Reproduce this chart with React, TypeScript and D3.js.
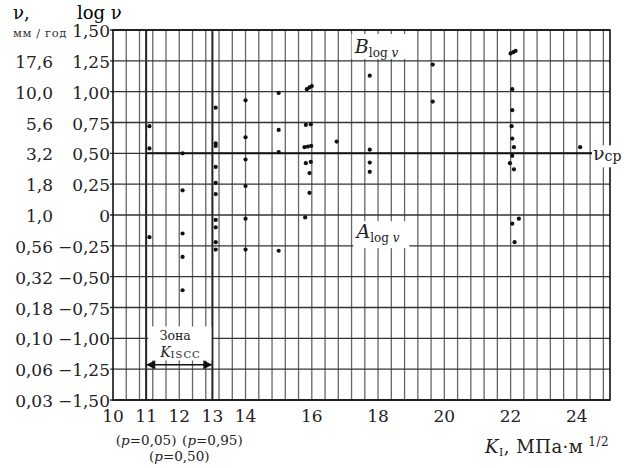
import React from 'react'
import { range, scaleLinear } from 'd3'

// K_I values (MPa·m^1/2) and log v for every measured point
const kValues = [
  11.1, 11.1, 11.1,
  12.1, 12.1, 12.1, 12.1, 12.1,
  13.1, 13.1, 13.1, 13.1, 13.1, 13.1, 13.1, 13.1, 13.1, 13.1,
  14.0, 14.0, 14.0, 14.0, 14.0, 14.0,
  15.0, 15.0, 15.0, 15.0,
  15.85, 15.93, 16.0, 15.82, 15.97, 15.78, 15.88, 15.98, 15.82, 15.97, 15.93, 15.93, 15.8,
  16.75,
  17.75, 17.75, 17.75, 17.75,
  19.65, 19.65,
  22.0, 22.08, 22.15, 22.05, 22.05, 22.03, 22.05, 22.1, 22.05, 21.98, 22.1, 22.25, 22.05, 22.12,
  24.1,
]
const logVValues = [
  0.72, 0.54, -0.18,
  0.5, 0.2, -0.15, -0.34, -0.61,
  0.87, 0.58, 0.56, 0.39, 0.26, 0.17, -0.04, -0.1, -0.22, -0.28,
  0.93, 0.63, 0.45, 0.235, -0.03, -0.28,
  0.99, 0.69, 0.51, -0.29,
  1.02, 1.035, 1.045, 0.73, 0.735, 0.55, 0.555, 0.56, 0.42, 0.43, 0.34, 0.18, -0.02,
  0.595,
  1.13, 0.53, 0.425, 0.35,
  1.22, 0.92,
  1.31, 1.32, 1.33, 1.02, 0.85, 0.72, 0.62, 0.55, 0.48, 0.42, 0.37, -0.03, -0.07, -0.22,
  0.55,
]

const logTicks = [1.5, 1.25, 1, 0.75, 0.5, 0.25, 0, -0.25, -0.5, -0.75, -1, -1.25, -1.5]
const logLabels = ['1,50', '1,25', '1,00', '0,75', '0,50', '0,25', '0', '−0,25', '−0,50', '−0,75', '−1,00', '−1,25', '−1,50']
const vLabels = ['', '17,6', '10,0', '5,6', '3,2', '1,8', '1,0', '0,56', '0,32', '0,18', '0,10', '0,06', '0,03']
const kTicks = [10, 11, 12, 13, 14, 16, 18, 20, 22, 24]
const probK = [11, 13, 12]
const probText = ['0,05', '0,95', '0,50']
const probRow = [0, 0, 1]
const meanLogV = 0.5
const zoneK = [11, 13]

const width = 632
const height = 468
const margin = { top: 30, right: 22, bottom: 68, left: 113 }
const innerW = width - margin.left - margin.right
const innerH = height - margin.top - margin.bottom

const font = '"DejaVu Serif", serif'

function App() {
  const x = scaleLinear().domain([10, 25]).range([0, innerW])
  const y = scaleLinear().domain([-1.5, 1.5]).range([innerH, 0])
  const gridK = range(10.4, 24.9, 0.4)
  const arrowY = y(-1.215)
  const zoneTop = y(-0.92)

  return (
    <div style={{ position: 'absolute', left: 0, top: 0 }}>
      <svg width={width} height={height} style={{ display: 'block', background: '#fff' }} fontFamily={font}>
        <defs>
          <marker id="ah" viewBox="0 0 10 10" refX="9" refY="5" markerWidth="7" markerHeight="6" orient="auto-start-reverse">
            <path d="M0,0 L10,5 L0,10 z" fill="#111" />
          </marker>
        </defs>

        {/* y header */}
        <text x={13} y={19} fontSize={18}>ν,</text>
        <text x={77} y={19} fontSize={18}>log ν</text>
        <text x={13} y={37} fontSize={11.5} letterSpacing={0.6} fill="#333">мм / год</text>

        <g transform={`translate(${margin.left},${margin.top})`}>
          {/* vertical grid */}
          {gridK.map((k, i) => (
            <line key={'v' + i} x1={x(k)} x2={x(k)} y1={0} y2={innerH} stroke="#666" strokeWidth={1.3} />
          ))}
          {zoneK.map(k => (
            <line key={'z' + k} x1={x(k)} x2={x(k)} y1={0} y2={innerH} stroke="#222" strokeWidth={2} />
          ))}
          {/* horizontal grid */}
          {logTicks.map(t => (
            <line key={'h' + t} x1={-3} x2={innerW} y1={y(t)} y2={y(t)} stroke="#333" strokeWidth={1.4} />
          ))}
          {/* mean line */}
          <line x1={x(11)} x2={innerW} y1={y(meanLogV)} y2={y(meanLogV)} stroke="#111" strokeWidth={2} />

          {/* frame */}
          <rect x={0} y={0} width={innerW} height={innerH} fill="none" stroke="#111" strokeWidth={1.6} />

          {/* y tick labels */}
          {logTicks.map((t, i) => (
            <g key={'yl' + t}>
              <text x={-3} y={y(t) + 7} fontSize={17} textAnchor="end" fill="#222">{logLabels[i]}</text>
              <text x={-60} y={y(t) + 7} fontSize={17} textAnchor="end" fill="#222">{vLabels[i]}</text>
            </g>
          ))}

          {/* x tick labels */}
          {kTicks.map(k => (
            <text key={'xl' + k} x={x(k)} y={innerH + 22} fontSize={17} textAnchor="middle" fill="#222">{k}</text>
          ))}
          {probK.map((k, i) => (
            <text key={'p' + k} x={x(k)} y={innerH + 45 + probRow[i] * 16} fontSize={13.5} textAnchor="middle" fill="#222">
              (<tspan fontStyle="italic">p</tspan>={probText[i]})
            </text>
          ))}

          {/* zone annotation */}
          <rect x={x(11) + 2} y={zoneTop - 2} width={x(13) - x(11) - 3} height={34} fill="#fff" />
          <text x={(x(11) + x(13)) / 2 - 4} y={zoneTop + 12} fontSize={12.5} textAnchor="middle" fill="#222">Зона</text>
          <text x={x(11) + 14} y={zoneTop + 29} fontSize={14} fill="#222">
            <tspan fontStyle="italic">K</tspan>
            <tspan fontSize={10} dy={1} letterSpacing={1}>ISCC</tspan>
          </text>
          <line x1={x(11) + 1} x2={x(13) - 1} y1={arrowY} y2={arrowY} stroke="#111" strokeWidth={1.5}
            markerStart="url(#ah)" markerEnd="url(#ah)" />

          {/* B and A labels */}
          <rect x={x(17.2)} y={4} width={56} height={25} fill="#fff" />
          <text x={x(17.3)} y={23} fontSize={19} fill="#222">
            <tspan fontStyle="italic">B</tspan>
            <tspan fontSize={12} dy={4}>log </tspan>
            <tspan fontSize={12} fontStyle="italic">v</tspan>
          </text>
          <rect x={x(17.25)} y={y(-0.05)} width={56} height={27} fill="#fff" />
          <text x={x(17.35)} y={y(-0.05) + 17} fontSize={19} fill="#222">
            <tspan fontStyle="italic">A</tspan>
            <tspan fontSize={12} dy={4}>log </tspan>
            <tspan fontSize={12} fontStyle="italic">v</tspan>
          </text>

          {/* mean label */}
          <rect x={innerW - 18} y={y(meanLogV) - 8} width={36} height={22} fill="#fff" />
          <text x={innerW - 17} y={y(meanLogV) + 7} fontSize={19} fill="#222">
            ν<tspan fontSize={14} dy={1}>ср</tspan>
          </text>

          {/* points */}
          {kValues.map((k, i) => (
            <circle key={'pt' + i} cx={x(k)} cy={y(logVValues[i])} r={2.1} fill="#111" />
          ))}
        </g>

        {/* x title */}
        <text x={485} y={453} fontSize={18} fill="#222" letterSpacing={0.5}>
          <tspan fontStyle="italic">K</tspan>
          <tspan fontSize={11} dy={3}>I</tspan>
          <tspan dy={-3}>, МПа·м</tspan>
          <tspan fontSize={12} dy={-7} dx={5}>1/2</tspan>
        </text>
      </svg>
    </div>
  )
}

export default App
